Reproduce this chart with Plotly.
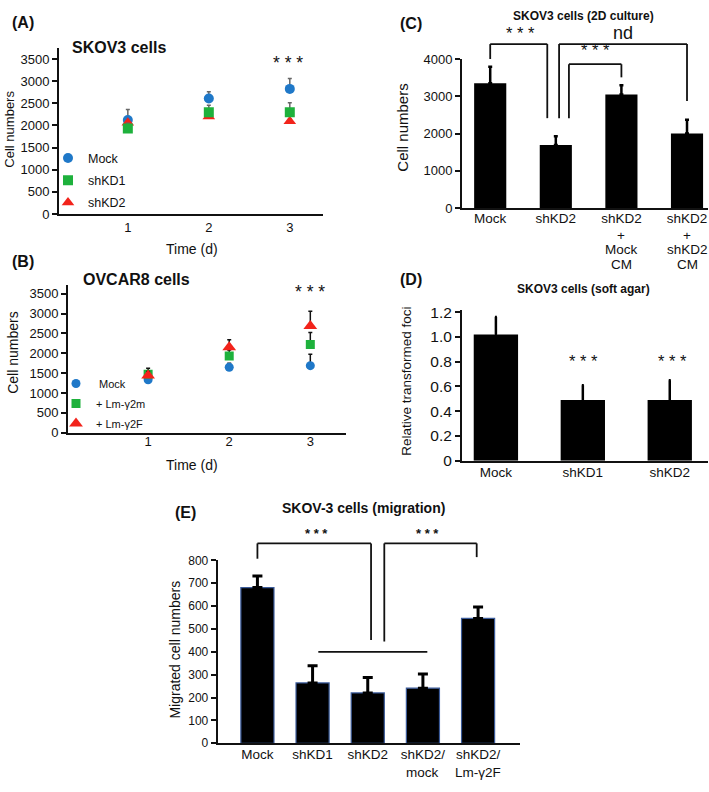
import plotly.graph_objects as go

W, H = 709, 792
FONT = "Liberation Sans, Arial, sans-serif"
BLUE, GREEN, RED = "#1F78C8", "#1EB13C", "#F2231B"

# ---------------- data ----------------
days = [1, 2, 3]
day_labels = ["1", "2", "3"]

a_mock = [2120, 2610, 2825]
a_mock_err = [240, 150, 235]
a_kd1 = [1930, 2295, 2295]
a_kd1_err = [120, 160, 220]
a_kd2 = [2060, 2200, 2095]
a_kd2_err = [50, 50, 50]

b_mock = [1335, 1650, 1690]
b_mock_err = [80, 100, 285]
b_g2m = [1475, 1935, 2225]
b_g2m_err = [150, 150, 300]
b_g2f = [1440, 2155, 2690]
b_g2f_err = [100, 185, 370]

c_cats = ["Mock", "shKD2", "shKD2\n+\nMock\nCM", "shKD2\n+\nshKD2\nCM"]
c_vals = [3350, 1690, 3045, 2000]
c_err = [440, 240, 250, 370]

d_cats = ["Mock", "shKD1", "shKD2"]
d_vals = [1.02, 0.49, 0.49]
d_err = [0.14, 0.12, 0.16]
d_ticks = [0, 0.2, 0.4, 0.6, 0.8, 1.0, 1.2]
d_ticktext = ["0", "0.2", "0.4", "0.6", "0.8", "1.0", "1.2"]

e_cats = ["Mock", "shKD1", "shKD2", "shKD2/\nmock", "shKD2/\nLm-γ2F"]
e_vals = [681, 264, 220, 241, 546]
e_err = [50, 75, 68, 62, 50]

# ---------------- geometry (pixels) ----------------
AX = {
    "": dict(xd=(59, 323), xr=(0.15, 3.41), yd=(211, 42), yr=(0, 3744)),
    "2": dict(xd=(68, 346), xr=(0.012, 3.44), yd=(434, 283), yr=(0, 3730)),
    "3": dict(xd=(462, 708), xr=(-0.43, 3.32), yd=(205, 53), yr=(0, 4000)),
    "4": dict(xd=(462, 708), xr=(-0.39, 2.44), yd=(462.5, 309), yr=(0, 1.216)),
    "5": dict(xd=(217.7, 520), xr=(-0.72, 4.76), yd=(750.5, 564), yr=(0, 800)),
}


def X(px):
    return px / W


def Y(py):
    return 1 - py / H


def dpx(k, x):
    a = AX[k]
    return a["xd"][0] + (x - a["xr"][0]) / (a["xr"][1] - a["xr"][0]) * (a["xd"][1] - a["xd"][0])


def dpy(k, y):
    a = AX[k]
    return a["yd"][0] + (y - a["yr"][0]) / (a["yr"][1] - a["yr"][0]) * (a["yd"][1] - a["yd"][0])


fig = go.Figure()


def err(arr, color, thick, width):
    return dict(type="data", array=arr, arrayminus=[0] * len(arr), symmetric=False,
                color=color, thickness=thick, width=width)


# ---- Panel A (draw order: Mock, shKD2, shKD1) ----
fig.add_trace(go.Scatter(x=days, y=a_mock, mode="markers", name="Mock",
                         marker=dict(symbol="circle", size=10, color=BLUE),
                         error_y=err(a_mock_err, "#666", 1.5, 2),
                         xaxis="x", yaxis="y", legend="legend", legendgroup="a1", legendrank=1))
fig.add_trace(go.Scatter(x=days, y=a_kd2, mode="markers", name="shKD2",
                         marker=dict(symbol="triangle-up", size=11, color=RED),
                         error_y=err(a_kd2_err, "#666", 1.5, 2),
                         xaxis="x", yaxis="y", legend="legend", legendgroup="a3", legendrank=3))
fig.add_trace(go.Scatter(x=days, y=a_kd1, mode="markers", name="shKD1",
                         marker=dict(symbol="square", size=10, color=GREEN),
                         error_y=err(a_kd1_err, "#666", 1.5, 2),
                         xaxis="x", yaxis="y", legend="legend", legendgroup="a2", legendrank=2))

# ---- Panel B ----
fig.add_trace(go.Scatter(x=days, y=b_mock, mode="markers", name=" Mock",
                         marker=dict(symbol="circle", size=9, color=BLUE),
                         error_y=err(b_mock_err, "#111", 1.5, 2),
                         xaxis="x2", yaxis="y2", legend="legend2", legendgroup="b1"))
fig.add_trace(go.Scatter(x=days, y=b_g2m, mode="markers", name="+ Lm-γ2m",
                         marker=dict(symbol="square", size=9, color=GREEN),
                         error_y=err(b_g2m_err, "#111", 1.5, 2),
                         xaxis="x2", yaxis="y2", legend="legend2", legendgroup="b2"))
fig.add_trace(go.Scatter(x=days, y=b_g2f, mode="markers", name="+ Lm-γ2F",
                         marker=dict(symbol="triangle-up", size=12, color=RED),
                         error_y=err(b_g2f_err, "#111", 1.5, 2),
                         xaxis="x2", yaxis="y2", legend="legend2", legendgroup="b3"))

# ---- Panel C ----
fig.add_trace(go.Bar(x=list(range(len(c_cats))), y=c_vals, width=0.49,
                     marker=dict(color="black", line=dict(width=0)),
                     error_y=err(c_err, "black", 2.5, 2),
                     xaxis="x3", yaxis="y3", showlegend=False))
# ---- Panel D ----
fig.add_trace(go.Bar(x=list(range(len(d_cats))), y=d_vals, width=0.51,
                     marker=dict(color="black", line=dict(width=0)),
                     error_y=err(d_err, "black", 2.5, 1),
                     xaxis="x4", yaxis="y4", showlegend=False))
# ---- Panel E ----
fig.add_trace(go.Bar(x=list(range(len(e_cats))), y=e_vals, width=0.6,
                     marker=dict(color="black", line=dict(width=1.2, color="#3B5B9A")),
                     error_y=err(e_err, "black", 3, 5),
                     xaxis="x5", yaxis="y5", showlegend=False))


def xaxis(k, tickvals, ticktext, size, standoff):
    a = AX[k]
    return dict(domain=[X(a["xd"][0]), X(a["xd"][1])], range=list(a["xr"]),
                anchor="y" + k, showline=True, linecolor="#111", linewidth=2,
                showgrid=False, zeroline=False, ticks="outside", ticklen=0,
                ticklabelstandoff=standoff,
                tickcolor="rgba(0,0,0,0)", tickvals=tickvals, ticktext=ticktext,
                tickfont=dict(family=FONT, size=size, color="#111"), fixedrange=True)


def yaxis(k, dtick, size, tickvals=None, ticktext=None):
    a = AX[k]
    d = dict(domain=[Y(a["yd"][0]), Y(a["yd"][1])], range=list(a["yr"]),
             anchor="x" + k, showline=True, linecolor="#111", linewidth=2,
             showgrid=False, zeroline=False, ticks="outside", ticklen=5, tickwidth=1.5,
             tickcolor="#111", tickfont=dict(family=FONT, size=size, color="#111"),
             fixedrange=True)
    if tickvals is not None:
        d.update(tickmode="array", tickvals=tickvals, ticktext=ticktext)
    else:
        d.update(tick0=0, dtick=dtick)
    return d


first = lambda cats: [c.split("\n")[0] for c in cats]

layout = dict(
    width=W, height=H, margin=dict(l=0, r=0, t=0, b=0),
    paper_bgcolor="white", plot_bgcolor="white",
    font=dict(family=FONT, color="#111"),
    xaxis=xaxis("", days, day_labels, 13, 0),
    yaxis=yaxis("", 500, 13),
    xaxis2=xaxis("2", days, day_labels, 13, -4),
    yaxis2=yaxis("2", 500, 13),
    xaxis3=xaxis("3", list(range(len(c_cats))), first(c_cats), 13.5, -3),
    yaxis3=yaxis("3", 1000, 13),
    xaxis4=xaxis("4", list(range(len(d_cats))), first(d_cats), 13.5, -2),
    yaxis4=yaxis("4", None, 15.5, d_ticks, d_ticktext),
    xaxis5=xaxis("5", list(range(len(e_cats))), first(e_cats), 13.5, -2),
    yaxis5=yaxis("5", 100, 12),
    legend=dict(x=X(48), y=Y(139), xanchor="left", yanchor="top",
                bgcolor="rgba(0,0,0,0)", font=dict(family=FONT, size=12.5, color="#111"),
                traceorder="grouped", tracegroupgap=3, itemclick=False),
    legend2=dict(x=X(56), y=Y(369), xanchor="left", yanchor="top",
                 bgcolor="rgba(0,0,0,0)", font=dict(family=FONT, size=11, color="#111"),
                 traceorder="grouped", tracegroupgap=1, itemclick=False),
    showlegend=True,
)

anns = []


def ann(text, px, py, size, bold=False, angle=0, xanchor="center"):
    anns.append(dict(text=("<b>%s</b>" % text) if bold else text, x=X(px), y=Y(py),
                     xref="paper", yref="paper", showarrow=False, textangle=angle,
                     xanchor=xanchor, yanchor="middle",
                     font=dict(family=FONT, size=size, color="#111")))


# panel letters and titles
ann("(A)", 23.5, 15.7, 16, True)
ann("SKOV3 cells", 119.5, 41.7, 16, True)
ann("(B)", 23.5, 259.3, 16, True)
ann("OVCAR8 cells", 136, 277.3, 16, True)
ann("(C)", 410.5, 16.7, 16, True)
ann("SKOV3 cells (2D culture)", 583, 9.5, 12, True)
ann("(D)", 410.5, 277.7, 16, True)
ann("SKOV3 cells (soft agar)", 583, 287.7, 12, True)
ann("(E)", 185.8, 515, 16, True)
ann("SKOV-3 cells (migration)", 363, 510.7, 14, True)

# axis titles
ann("Cell numbers", 10, 125, 13, angle=-90)
ann("Time (d)", 192, 246.7, 14)
ann("Cell numbers", 13, 352.5, 14, angle=-90)
ann("Time (d)", 192, 467, 14)
ann("Cell numbers", 403, 123, 15, angle=-90)
ann("Relative transformed foci", 407, 382, 13.5, angle=-90)
ann("Migrated cell numbers", 175, 655, 14, angle=-90)

# significance marks (asterisk glyphs sit low in the box -> small upward offset)
STAR = "* * *"
OFF = 3
ann(STAR, 288, 60 - OFF, 17.5)
ann(STAR, 310, 294 - OFF, 17.5)
ann(STAR, 520, 29 - OFF, 16.5)
ann(STAR, 595, 46.7 - OFF, 16.5)
ann("nd", 623, 26, 18)
ann(STAR, 583, 364 - OFF, 16.5)
ann(STAR, 672, 364 - OFF, 16.5)
ann(STAR, 316.7, 539.3 - OFF, 13, True)
ann(STAR, 427.7, 539.3 - OFF, 13, True)


# extra lines of multi-line category labels
def extra_lines(k, cats, first_py, spacing, size):
    for i, c in enumerate(cats):
        for j, line in enumerate(c.split("\n")[1:], start=1):
            ann(line, dpx(k, i), first_py + j * spacing, size)


extra_lines("3", c_cats, 218, 14.7, 13.5)
extra_lines("5", e_cats, 765, 15.5, 13.5)

# brackets (data-coordinate definitions converted to paper)
shapes = []


def seg(k, x0, y0, x1, y1, w=1.8):
    shapes.append(dict(type="line", xref="paper", yref="paper",
                       x0=X(dpx(k, x0)), y0=Y(dpy(k, y0)),
                       x1=X(dpx(k, x1)), y1=Y(dpy(k, y1)),
                       line=dict(color="#111", width=w)))


def bracket(k, xa, xb, ytop, ya, yb):
    seg(k, xa, ytop, xb, ytop)
    seg(k, xa, ytop, xa, ya)
    seg(k, xb, ytop, xb, yb)


c_brackets = [(0, 0.87, 4400, 4000, 2413), (1.05, 3.0, 4400, 2413, 2876), (1.2, 2.0, 3860, 2413, 3508)]
for b in c_brackets:
    bracket("3", *b)

e_brackets = [(0, 2.06, 874, 807, 452), (2.30, 3.975, 874, 445, 814)]
for b in e_brackets:
    bracket("5", *b)
seg("5", 1.104, 400, 3.08, 400)

layout["annotations"] = anns
layout["shapes"] = shapes
fig.update_layout(**layout)
fig.write_html("out.html", config={"displayModeBar": False},
               post_script="document.body.style.margin='0';document.body.style.overflow='hidden';")
